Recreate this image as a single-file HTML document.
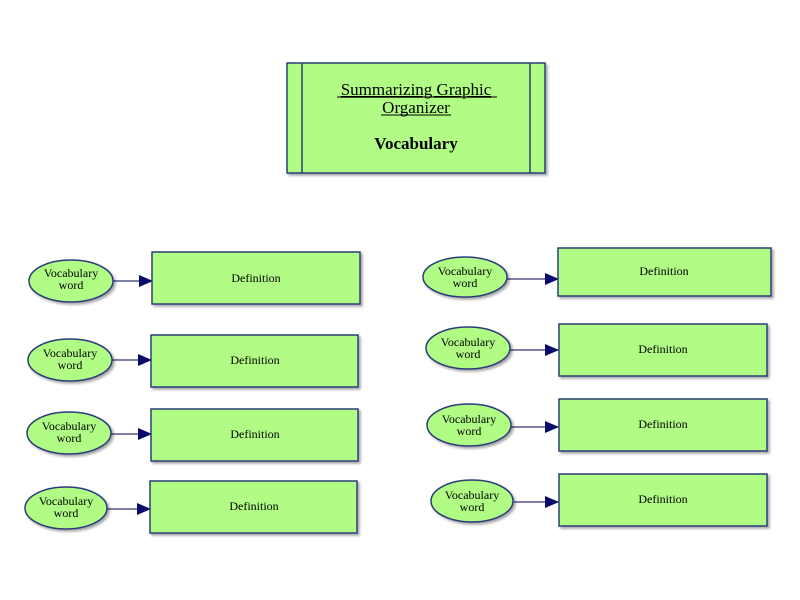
<!DOCTYPE html>
<html><head><meta charset="utf-8"><style>
html,body{margin:0;padding:0;background:#fff;}
svg{display:block;}
text{font-family:"Liberation Serif",serif;fill:#000;}
</style></head><body>
<svg width="800" height="600" viewBox="0 0 800 600" xmlns="http://www.w3.org/2000/svg">
<defs>
<marker id="ar" markerWidth="14" markerHeight="12" refX="13" refY="6" orient="auto" markerUnits="userSpaceOnUse">
<path d="M0,0 L14,6 L0,12 Z" fill="#0a0a6a"/></marker>
<filter id="sh" x="-10%" y="-10%" width="125%" height="130%"><feDropShadow dx="2" dy="2" stdDeviation="1.2" flood-color="#000" flood-opacity="0.35"/></filter>
</defs>
<g stroke="#2c3e7a" stroke-width="1.5" fill="#b0fc84">
<rect x="287" y="63" width="258" height="110" filter="url(#sh)"/>
<line x1="302" y1="63" x2="302" y2="173"/>
<line x1="530" y1="63" x2="530" y2="173"/>
</g>
<text x="416" y="95" font-size="17" text-anchor="middle" text-decoration="underline">Summarizing Graphic </text>
<line x1="337" y1="97" x2="497" y2="97" stroke="#000" stroke-width="1"/>
<text x="416" y="113" font-size="17" text-anchor="middle">Organizer</text>
<line x1="381" y1="115" x2="451" y2="115" stroke="#000" stroke-width="1"/>
<text x="416" y="149" font-size="17" font-weight="bold" text-anchor="middle">Vocabulary</text>

<g font-size="12">
<!-- left rows -->
<g>
<line x1="113" y1="281" x2="152" y2="281" stroke="#55558a" stroke-width="1.5" marker-end="url(#ar)"/>
<ellipse cx="71" cy="281" rx="42" ry="21" fill="#b0fc84" stroke="#2c3e7a" stroke-width="1.5" filter="url(#sh)"/>
<text x="71" y="277" text-anchor="middle">Vocabulary</text><text x="71" y="289" text-anchor="middle">word</text>
<rect x="152" y="252" width="208" height="52" fill="#b0fc84" stroke="#2c3e7a" stroke-width="1.5" filter="url(#sh)"/>
<text x="256" y="282" text-anchor="middle">Definition</text>
</g>
<g>
<line x1="112" y1="360" x2="151" y2="360" stroke="#55558a" stroke-width="1.5" marker-end="url(#ar)"/>
<ellipse cx="70" cy="360" rx="42" ry="21" fill="#b0fc84" stroke="#2c3e7a" stroke-width="1.5" filter="url(#sh)"/>
<text x="70" y="357" text-anchor="middle">Vocabulary</text><text x="70" y="369" text-anchor="middle">word</text>
<rect x="151" y="335" width="207" height="52" fill="#b0fc84" stroke="#2c3e7a" stroke-width="1.5" filter="url(#sh)"/>
<text x="255" y="364" text-anchor="middle">Definition</text>
</g>
<g>
<line x1="111" y1="434" x2="151" y2="434" stroke="#55558a" stroke-width="1.5" marker-end="url(#ar)"/>
<ellipse cx="69" cy="433" rx="42" ry="21" fill="#b0fc84" stroke="#2c3e7a" stroke-width="1.5" filter="url(#sh)"/>
<text x="69" y="430" text-anchor="middle">Vocabulary</text><text x="69" y="442" text-anchor="middle">word</text>
<rect x="151" y="409" width="207" height="52" fill="#b0fc84" stroke="#2c3e7a" stroke-width="1.5" filter="url(#sh)"/>
<text x="255" y="438" text-anchor="middle">Definition</text>
</g>
<g>
<line x1="107" y1="509" x2="150" y2="509" stroke="#55558a" stroke-width="1.5" marker-end="url(#ar)"/>
<ellipse cx="66" cy="508" rx="41" ry="21" fill="#b0fc84" stroke="#2c3e7a" stroke-width="1.5" filter="url(#sh)"/>
<text x="66" y="505" text-anchor="middle">Vocabulary</text><text x="66" y="517" text-anchor="middle">word</text>
<rect x="150" y="481" width="207" height="52" fill="#b0fc84" stroke="#2c3e7a" stroke-width="1.5" filter="url(#sh)"/>
<text x="254" y="510" text-anchor="middle">Definition</text>
</g>
<!-- right rows -->
<g>
<line x1="507" y1="279" x2="558" y2="279" stroke="#55558a" stroke-width="1.5" marker-end="url(#ar)"/>
<ellipse cx="465" cy="277" rx="42" ry="20" fill="#b0fc84" stroke="#2c3e7a" stroke-width="1.5" filter="url(#sh)"/>
<text x="465" y="275" text-anchor="middle">Vocabulary</text><text x="465" y="287" text-anchor="middle">word</text>
<rect x="558" y="248" width="213" height="48" fill="#b0fc84" stroke="#2c3e7a" stroke-width="1.5" filter="url(#sh)"/>
<text x="664" y="275" text-anchor="middle">Definition</text>
</g>
<g>
<line x1="510" y1="350" x2="558" y2="350" stroke="#55558a" stroke-width="1.5" marker-end="url(#ar)"/>
<ellipse cx="468" cy="348" rx="42" ry="21" fill="#b0fc84" stroke="#2c3e7a" stroke-width="1.5" filter="url(#sh)"/>
<text x="468" y="346" text-anchor="middle">Vocabulary</text><text x="468" y="358" text-anchor="middle">word</text>
<rect x="559" y="324" width="208" height="52" fill="#b0fc84" stroke="#2c3e7a" stroke-width="1.5" filter="url(#sh)"/>
<text x="663" y="353" text-anchor="middle">Definition</text>
</g>
<g>
<line x1="511" y1="427" x2="558" y2="427" stroke="#55558a" stroke-width="1.5" marker-end="url(#ar)"/>
<ellipse cx="469" cy="425" rx="42" ry="21" fill="#b0fc84" stroke="#2c3e7a" stroke-width="1.5" filter="url(#sh)"/>
<text x="469" y="423" text-anchor="middle">Vocabulary</text><text x="469" y="435" text-anchor="middle">word</text>
<rect x="559" y="399" width="208" height="52" fill="#b0fc84" stroke="#2c3e7a" stroke-width="1.5" filter="url(#sh)"/>
<text x="663" y="428" text-anchor="middle">Definition</text>
</g>
<g>
<line x1="514" y1="502" x2="558" y2="502" stroke="#55558a" stroke-width="1.5" marker-end="url(#ar)"/>
<ellipse cx="472" cy="501" rx="41" ry="21" fill="#b0fc84" stroke="#2c3e7a" stroke-width="1.5" filter="url(#sh)"/>
<text x="472" y="499" text-anchor="middle">Vocabulary</text><text x="472" y="511" text-anchor="middle">word</text>
<rect x="559" y="474" width="208" height="52" fill="#b0fc84" stroke="#2c3e7a" stroke-width="1.5" filter="url(#sh)"/>
<text x="663" y="503" text-anchor="middle">Definition</text>
</g>
</g>
</svg>
</body></html>
